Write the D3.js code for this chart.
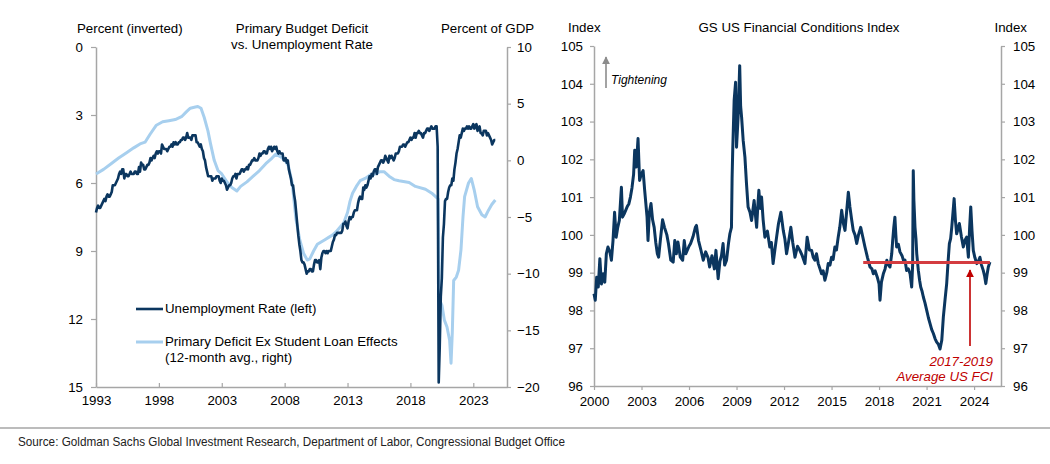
<!DOCTYPE html>
<html><head><meta charset="utf-8">
<script src="https://cdn.jsdelivr.net/npm/d3@7"></script>
<style>
body{margin:0;background:#fff}
svg{display:block}
text{font-family:"Liberation Sans",Arial,sans-serif}
</style>
</head><body>
<svg id="chart" width="1050" height="464"></svg>
<script>
// ---------- DATA ----------
// Left panel: unemployment rate (%, monthly from Jan 1993)
const unempStartYear = 1993;
const unempMonthly = [
7.3,7.1,7.0,7.1,7.1,7.0,6.9,6.8,6.7,6.8,6.6,6.5,
6.6,6.6,6.5,6.4,6.1,6.1,6.1,6.0,5.9,5.8,5.6,5.5,
5.6,5.4,5.4,5.8,5.6,5.6,5.7,5.7,5.6,5.5,5.6,5.6,
5.6,5.5,5.5,5.6,5.6,5.3,5.5,5.1,5.2,5.2,5.4,5.4,
5.3,5.2,5.2,5.1,4.9,5.0,4.9,4.8,4.9,4.7,4.6,4.7,
4.6,4.6,4.7,4.3,4.4,4.5,4.5,4.5,4.6,4.5,4.4,4.4,
4.3,4.4,4.2,4.3,4.2,4.3,4.3,4.2,4.2,4.1,4.1,4.0,
4.0,4.1,4.0,3.8,4.0,4.0,4.0,4.1,3.9,3.9,3.9,3.9,
4.2,4.2,4.3,4.4,4.3,4.5,4.6,4.9,5.0,5.3,5.5,5.7,
5.7,5.7,5.7,5.9,5.8,5.8,5.8,5.7,5.7,5.7,5.9,6.0,
5.8,5.9,5.9,6.0,6.1,6.3,6.2,6.1,6.1,6.0,5.8,5.7,
5.7,5.6,5.8,5.6,5.6,5.6,5.5,5.4,5.4,5.5,5.4,5.4,
5.3,5.4,5.2,5.2,5.1,5.0,5.0,4.9,5.0,5.0,5.0,4.9,
4.7,4.8,4.7,4.7,4.6,4.6,4.7,4.7,4.5,4.4,4.5,4.4,
4.6,4.5,4.4,4.5,4.4,4.6,4.7,4.6,4.7,4.7,4.7,5.0,
5.0,4.9,5.1,5.0,5.4,5.6,5.8,6.1,6.1,6.5,6.8,7.3,
7.8,8.3,8.7,9.0,9.4,9.5,9.5,9.6,9.8,10.0,9.9,9.9,
9.8,9.8,9.9,9.9,9.6,9.4,9.4,9.5,9.5,9.4,9.8,9.3,
9.1,9.0,9.0,9.1,9.0,9.1,9.0,9.0,9.0,8.8,8.6,8.5,
8.3,8.3,8.2,8.2,8.2,8.2,8.2,8.1,7.8,7.8,7.7,7.9,
8.0,7.7,7.5,7.6,7.5,7.5,7.3,7.2,7.2,7.2,6.9,6.7,
6.6,6.7,6.7,6.2,6.3,6.1,6.2,6.1,5.9,5.7,5.8,5.6,
5.7,5.5,5.4,5.4,5.6,5.3,5.2,5.1,5.0,5.0,5.1,5.0,
4.8,4.9,5.0,5.1,4.8,4.9,4.8,4.9,5.0,4.9,4.7,4.7,
4.7,4.6,4.4,4.4,4.4,4.3,4.3,4.4,4.3,4.2,4.2,4.1,
4.0,4.1,4.0,4.0,3.8,4.0,3.8,3.8,3.7,3.8,3.8,3.9,
4.0,3.8,3.8,3.7,3.6,3.6,3.7,3.6,3.5,3.6,3.6,3.6,
3.5,3.5,4.4,14.8,13.2,11.0,10.2,8.4,7.8,6.8,6.7,6.7,
6.4,6.2,6.1,6.1,5.8,5.9,5.4,5.1,4.7,4.5,4.2,3.9,
4.0,3.8,3.6,3.7,3.6,3.6,3.5,3.6,3.5,3.6,3.6,3.5,
3.4,3.6,3.5,3.4,3.7,3.6,3.5,3.8,3.8,3.9,3.7,3.7,
3.7,3.9,3.8,3.9,4.0,4.1,4.3,4.2,4.1,4.1
];

// Left panel: primary deficit ex student loan effects (% of GDP, 12m avg)
const deficitYears = [
1993.0,1993.6,1994.2,1994.8,1995.4,1996.0,1996.5,1996.9,1997.3,1997.8,
1998.3,1998.8,1999.3,1999.8,2000.2,2000.5,2000.9,2001.1,2001.35,2001.6,
2001.9,2002.1,2002.4,2002.7,2003.0,2003.4,2003.8,2004.2,2004.5,2005.0,
2005.5,2006.0,2006.5,2007.0,2007.3,2007.7,2008.0,2008.3,2008.6,2008.9,
2009.2,2009.5,2009.8,2010.0,2010.3,2010.6,2010.9,2011.2,2011.5,2011.8,
2012.1,2012.4,2012.7,2013.0,2013.2,2013.4,2013.7,2014.0,2014.4,2014.8,
2015.2,2015.6,2015.9,2016.3,2016.7,2017.1,2017.9,2018.4,2019.2,2019.7,
2020.2,2020.3,2020.51,2020.7,2020.91,2021.12,2021.23,2021.33,2021.44,2021.65,
2021.83,2022.02,2022.18,2022.31,2022.62,2022.84,2023.07,2023.34,2023.68,2023.94,
2024.21,2024.47,2024.75
];
const deficitValues = [
-1.2,-0.8,-0.3,0.2,0.65,1.1,1.45,1.6,2.3,3.1,
3.4,3.5,3.6,3.85,4.3,4.6,4.7,4.75,4.6,3.8,
2.6,1.5,0.0,-0.9,-1.2,-1.9,-2.4,-2.7,-2.3,-1.9,
-1.4,-0.9,-0.3,0.2,0.55,0.3,0.05,-0.5,-2.0,-5.2,
-7.0,-8.2,-8.8,-8.7,-8.0,-7.4,-7.2,-7.0,-6.8,-6.6,
-6.3,-5.9,-5.5,-4.6,-3.6,-2.9,-2.3,-1.8,-1.6,-1.3,
-1.2,-1.0,-1.0,-1.4,-1.7,-1.8,-1.95,-2.3,-2.55,-2.9,
-3.4,-12.3,-12.8,-14.1,-14.7,-15.9,-17.9,-15.2,-10.6,-10.3,
-9.7,-7.9,-5.0,-3.2,-2.0,-1.6,-2.6,-4.1,-4.8,-5.0,
-4.4,-3.9,-3.5
];

// Right panel: GS US Financial Conditions Index
const fciYears = [
2000.00,2000.08,2000.17,2000.27,2000.37,2000.47,2000.58,2000.68,2000.78,2000.88,
2001.00,2001.10,2001.20,2001.30,2001.40,2001.50,2001.60,2001.73,2001.80,2001.90,
2002.00,2002.10,2002.20,2002.30,2002.40,2002.50,2002.57,2002.67,2002.78,2002.88,
2002.98,2003.10,2003.20,2003.35,2003.41,2003.50,2003.60,2003.70,2003.80,2003.90,
2004.00,2004.08,2004.20,2004.33,2004.45,2004.60,2004.70,2004.85,2005.00,2005.10,
2005.20,2005.30,2005.45,2005.60,2005.70,2005.80,2006.00,2006.10,2006.25,2006.40,
2006.47,2006.60,2006.75,2006.90,2007.05,2007.20,2007.30,2007.45,2007.60,2007.70,
2007.84,2007.95,2008.05,2008.15,2008.25,2008.37,2008.50,2008.58,2008.68,2008.72,
2008.76,2008.85,2008.94,2009.00,2009.10,2009.20,2009.26,2009.32,2009.42,2009.53,
2009.63,2009.73,2009.85,2009.95,2010.11,2010.20,2010.27,2010.35,2010.41,2010.50,
2010.58,2010.68,2010.79,2010.95,2011.10,2011.20,2011.31,2011.42,2011.53,2011.65,
2011.80,2011.95,2012.05,2012.16,2012.30,2012.43,2012.55,2012.69,2012.85,2013.00,
2013.15,2013.32,2013.46,2013.60,2013.74,2013.85,2013.95,2014.05,2014.16,2014.27,
2014.37,2014.47,2014.58,2014.70,2014.79,2014.90,2015.00,2015.10,2015.21,2015.31,
2015.42,2015.52,2015.64,2015.75,2015.85,2015.95,2016.06,2016.16,2016.27,2016.37,
2016.48,2016.59,2016.70,2016.84,2016.97,2017.11,2017.27,2017.43,2017.55,2017.64,
2017.75,2017.89,2018.00,2018.06,2018.15,2018.27,2018.38,2018.49,2018.60,2018.69,
2018.80,2018.86,2018.93,2019.00,2019.06,2019.11,2019.22,2019.32,2019.45,2019.56,
2019.64,2019.74,2019.85,2019.96,2020.06,2020.12,2020.16,2020.20,2020.27,2020.33,
2020.38,2020.48,2020.56,2020.63,2020.72,2020.80,2020.90,2021.01,2021.12,2021.22,
2021.32,2021.43,2021.54,2021.64,2021.75,2021.85,2021.96,2022.06,2022.17,2022.27,
2022.36,2022.44,2022.52,2022.59,2022.67,2022.74,2022.82,2022.90,2022.98,2023.07,
2023.20,2023.32,2023.42,2023.53,2023.64,2023.72,2023.79,2023.87,2023.95,2024.05,
2024.17,2024.27,2024.37,2024.47,2024.58,2024.67,2024.74,2024.82,2024.90,2025.00
];
const fciValues = [
98.44,98.27,98.88,98.62,99.37,98.70,98.97,98.75,99.50,99.68,
99.55,99.33,99.85,100.60,99.94,100.20,100.38,101.26,100.47,100.55,
100.65,100.75,100.82,101.00,101.25,101.60,102.24,101.80,102.55,101.44,
101.60,101.70,101.18,100.47,99.85,100.60,100.83,100.40,100.20,99.80,
99.50,99.41,99.90,100.40,100.20,100.00,99.77,99.33,99.28,99.85,
99.50,99.81,99.41,99.33,99.85,99.50,99.70,99.77,99.95,100.20,
100.25,99.85,99.60,99.33,99.55,99.40,99.15,99.45,99.10,99.59,
98.84,99.30,99.45,99.77,99.20,99.33,99.80,100.03,100.20,101.50,
102.24,103.56,104.04,102.32,103.12,104.48,103.40,103.12,102.50,102.06,
101.35,100.74,100.60,100.38,100.91,100.50,100.20,100.80,101.18,100.70,
101.00,100.40,99.94,100.10,99.68,99.80,99.24,99.60,99.94,100.30,
100.60,100.12,99.90,99.50,99.85,100.20,99.80,99.41,99.70,99.59,
99.45,99.24,99.94,99.60,99.59,99.40,99.33,99.50,99.24,99.10,
98.97,99.05,98.80,99.00,99.24,99.20,99.41,99.35,99.68,99.60,
99.94,100.20,100.65,100.30,100.12,100.60,101.13,100.74,100.40,100.12,
100.00,99.77,100.00,100.20,99.95,99.68,99.40,99.15,99.10,98.97,
99.05,98.88,98.70,98.27,98.75,98.97,99.10,99.33,99.20,99.15,
99.50,99.85,100.20,100.47,100.00,99.68,99.75,99.55,99.45,99.30,
99.33,99.06,99.10,98.97,98.62,99.20,101.70,100.90,100.20,99.90,
99.50,99.06,98.80,98.62,98.50,98.35,98.20,98.00,97.80,97.65,
97.50,97.39,97.25,97.16,97.10,96.98,97.21,97.83,98.30,98.71,
99.30,99.77,99.90,100.20,100.60,100.96,100.40,100.03,100.15,100.30,
99.95,99.68,99.85,99.94,99.41,100.20,100.74,100.10,99.59,99.40,
99.24,99.30,99.41,99.20,99.06,98.90,98.71,98.95,99.15,99.28
];
const fciAvgYears = [2017.0, 2025.0];
const fciAvgValue = 99.27;

// Ticks
const leftXTicks = [1993,1998,2003,2008,2013,2018,2023];
const leftYTicks = [0,3,6,9,12,15];
const rightYTicks = [10,5,0,-5,-10,-15,-20];
const fciXTicks = [2000,2003,2006,2009,2012,2015,2018,2021,2024];
const fciYTicks = [96,97,98,99,100,101,102,103,104,105];

// ---------- DRAW ----------
const svg = d3.select("#chart");
const AX = "#a6a6a6", DARK = "#0b365f", LIGHT = "#a7cfee", RED = "#c00000";
const FS = 13.3;

function styleAxis(g){
  g.select(".domain").attr("stroke", AX).attr("stroke-width", 1.5);
  g.selectAll(".tick line").attr("stroke", AX).attr("stroke-width", 1.2);
  g.selectAll(".tick text").attr("fill", "#000").style("font-size", FS + "px")
    .style("font-family", '"Liberation Sans", Arial, sans-serif');
}

// Left panel scales
const xL = d3.scaleLinear().domain([1993, 2025.68]).range([96, 507]);
const yU = d3.scaleLinear().domain([0, 15]).range([47, 387]);
const yD = d3.scaleLinear().domain([10, -20]).range([47, 387]);

svg.append("g").attr("transform", "translate(0,387)")
  .call(d3.axisBottom(xL).tickValues(leftXTicks).tickFormat(d3.format("d")).tickSizeInner(-4).tickSizeOuter(0).tickPadding(9))
  .call(styleAxis);
svg.append("g").attr("transform", "translate(96,0)")
  .call(d3.axisLeft(yU).tickValues(leftYTicks).tickSizeInner(5).tickSizeOuter(0).tickPadding(8))
  .call(styleAxis);
svg.append("g").attr("transform", "translate(507,0)")
  .call(d3.axisRight(yD).tickValues(rightYTicks).tickSizeInner(4).tickSizeOuter(0).tickPadding(6))
  .call(styleAxis);

const deficitPts = deficitYears.map((y, i) => [y, deficitValues[i]]);
svg.append("path").datum(deficitPts)
  .attr("fill", "none").attr("stroke", LIGHT).attr("stroke-width", 3).attr("stroke-linejoin", "round")
  .attr("d", d3.line().x(d => xL(d[0])).y(d => yD(d[1])));

const unempPts = unempMonthly.map((v, i) => [unempStartYear + i / 12, v]);
svg.append("path").datum(unempPts)
  .attr("fill", "none").attr("stroke", DARK).attr("stroke-width", 2.6).attr("stroke-linejoin", "round")
  .attr("d", d3.line().x(d => xL(d[0])).y(d => yU(d[1])));

// Left titles
const T = (x, y, s, anchor, opts = {}) => svg.append("text").attr("x", x).attr("y", y)
  .attr("text-anchor", anchor || "start").style("font-size", (opts.size || FS) + "px")
  .style("font-style", opts.italic ? "italic" : "normal").attr("fill", opts.fill || "#000").text(s);
T(77, 33, "Percent (inverted)");
T(302, 33, "Primary Budget Deficit", "middle");
T(302, 49, "vs. Unemployment Rate", "middle");
T(441, 33, "Percent of GDP");

// Legend
svg.append("line").attr("x1", 136).attr("x2", 163).attr("y1", 309).attr("y2", 309).attr("stroke", DARK).attr("stroke-width", 2.6);
T(165, 313, "Unemployment Rate (left)");
svg.append("line").attr("x1", 136).attr("x2", 163).attr("y1", 342).attr("y2", 342).attr("stroke", LIGHT).attr("stroke-width", 3);
T(165, 346, "Primary Deficit Ex Student Loan Effects");
T(165, 362, "(12-month avg., right)");

// Right panel scales
const xR = d3.scaleLinear().domain([2000, 2025.7]).range([594, 1001]);
const yF = d3.scaleLinear().domain([96, 105]).range([386, 46]);

svg.append("g").attr("transform", "translate(0,386)")
  .call(d3.axisBottom(xR).tickValues(fciXTicks).tickFormat(d3.format("d")).tickSizeInner(4).tickSizeOuter(0).tickPadding(7))
  .call(styleAxis);
svg.append("g").attr("transform", "translate(594,0)")
  .call(d3.axisLeft(yF).tickValues(fciYTicks).tickSizeInner(4).tickSizeOuter(0).tickPadding(7))
  .call(styleAxis);
svg.append("g").attr("transform", "translate(1001,0)")
  .call(d3.axisRight(yF).tickValues(fciYTicks).tickSizeInner(4).tickSizeOuter(0).tickPadding(8))
  .call(styleAxis);

const fciPts = fciYears.map((y, i) => [y, fciValues[i]]);
svg.append("path").datum(fciPts)
  .attr("fill", "none").attr("stroke", DARK).attr("stroke-width", 3).attr("stroke-linejoin", "round")
  .attr("d", d3.line().x(d => xR(d[0])).y(d => yF(d[1])));

// Average line
svg.append("line")
  .attr("x1", xR(fciAvgYears[0])).attr("x2", xR(fciAvgYears[1]))
  .attr("y1", yF(fciAvgValue)).attr("y2", yF(fciAvgValue))
  .attr("stroke", "#d43c40").attr("stroke-width", 3);

// Arrowheads
const defs = svg.append("defs");
defs.append("marker").attr("id", "redHead").attr("viewBox", "0 0 10 10").attr("refX", 9).attr("refY", 5)
  .attr("markerWidth", 5).attr("markerHeight", 5).attr("orient", "auto")
  .append("path").attr("d", "M0,0 L10,5 L0,10 Z").attr("fill", RED);
defs.append("marker").attr("id", "grayHead").attr("viewBox", "0 0 10 10").attr("refX", 9).attr("refY", 5)
  .attr("markerWidth", 5).attr("markerHeight", 5).attr("orient", "auto")
  .append("path").attr("d", "M0,0 L10,5 L0,10 Z").attr("fill", "#8c8c8c");

svg.append("line").attr("x1", 970).attr("x2", 970).attr("y1", 346).attr("y2", 270)
  .attr("stroke", RED).attr("stroke-width", 1.6).attr("marker-end", "url(#redHead)");
T(993, 366, "2017-2019", "end", {italic: true, fill: RED});
T(993, 381, "Average US FCI", "end", {italic: true, fill: RED});

// Tightening arrow
svg.append("line").attr("x1", 606).attr("x2", 606).attr("y1", 88).attr("y2", 57)
  .attr("stroke", "#8c8c8c").attr("stroke-width", 1.6).attr("marker-end", "url(#grayHead)");
T(611, 84, "Tightening", "start", {italic: true, size: 12});

// Right titles
T(568, 32, "Index");
T(799, 32, "GS US Financial Conditions Index", "middle");
T(1027, 32, "Index", "end");

// Source
svg.append("line").attr("x1", 0).attr("x2", 1050).attr("y1", 428).attr("y2", 428)
  .attr("stroke", "#a6a6a6").attr("stroke-width", 1.5);
svg.append("text").attr("x", 18).attr("y", 446)
  .style("font-family", '"Liberation Sans Narrow", "Liberation Sans", Arial, sans-serif')
  .style("font-size", "12.5px").attr("fill", "#222")
  .attr("textLength", 547).attr("lengthAdjust", "spacingAndGlyphs")
  .text("Source: Goldman Sachs Global Investment Research, Department of Labor, Congressional Budget Office");
</script>
</body></html>
